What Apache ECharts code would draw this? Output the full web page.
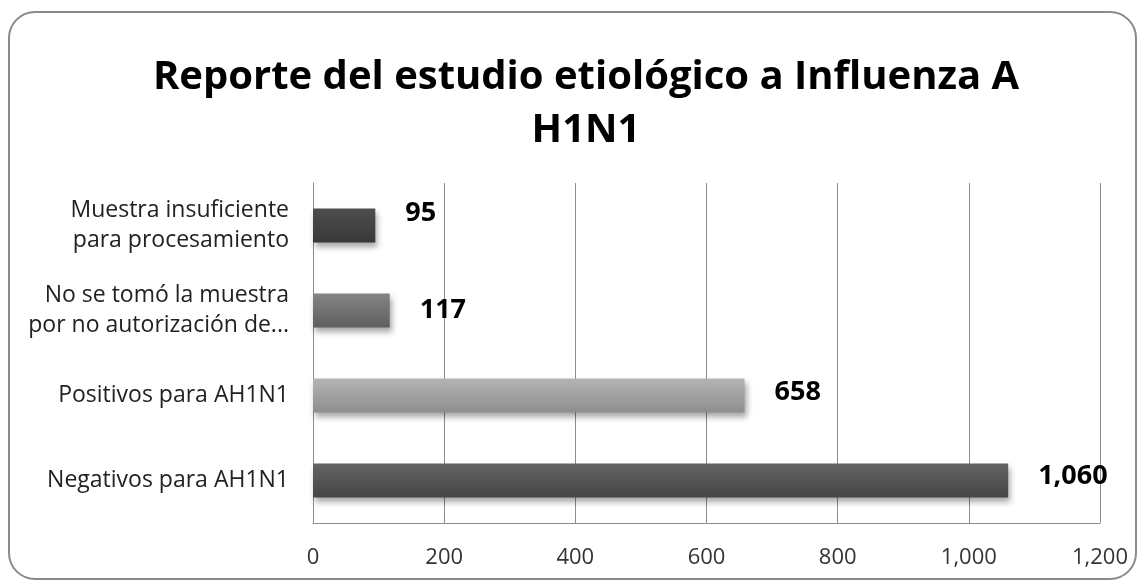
<!DOCTYPE html>
<html>
<head>
<meta charset="utf-8">
<script src="https://cdn.jsdelivr.net/npm/echarts@6/dist/echarts.min.js"></script>
<style>
  html, body { margin: 0; padding: 0; background: #fff; }
  #chart { width: 1142px; height: 585px; }
</style>
</head>
<body>
<div id="chart"></div>
<script>
var categories = [
  'Muestra insuficiente\npara procesamiento',
  'No se tomó la muestra\npor no autorización de...',
  'Positivos para AH1N1',
  'Negativos para AH1N1'
];
var values = [95, 117, 658, 1060];
var barColors = [
  ['#4e4e4e', '#383838'],
  ['#858585', '#5e5e5e'],
  ['#b4b4b4', '#8e8e8e'],
  ['#646464', '#444444']
];
var labelOffsets = [[0, -12], [0, 0], [0, -3], [0, -4]];
var xTicks = { min: 0, max: 1200, interval: 200 };

function fmt(v) {
  return String(v).replace(/\B(?=(\d{3})+(?!\d))/g, ',');
}

var chart = echarts.init(document.getElementById('chart'));

var data = values.map(function (v, i) {
  return {
    value: v,
    itemStyle: {
      color: new echarts.graphic.LinearGradient(0, 0, 0, 1, [
        { offset: 0, color: barColors[i][0] },
        { offset: 1, color: barColors[i][1] }
      ])
    },
    label: { offset: labelOffsets[i] }
  };
});

var option = {
  animation: false,
  backgroundColor: '#fff',
  title: {
    text: 'Reporte del estudio etiológico a Influenza A\nH1N1',
    left: 581,
    top: 46,
    textAlign: 'center',
    textStyle: {
      fontFamily: 'Open Sans',
      fontWeight: 'bold',
      fontSize: 40,
      lineHeight: 53,
      color: '#000'
    }
  },
  graphic: [{
    type: 'rect',
    shape: { x: 9, y: 12, width: 1127, height: 567, r: 26 },
    style: { fill: 'none', stroke: '#8a8a8a', lineWidth: 2 },
    silent: true
  }],
  grid: { left: 313, right: 42, top: 183, bottom: 62 },
  xAxis: {
    type: 'value',
    min: xTicks.min,
    max: xTicks.max,
    interval: xTicks.interval,
    axisLine: { show: true, lineStyle: { color: '#8c8c8c' } },
    axisTick: { show: false },
    splitLine: { show: true, lineStyle: { color: '#8c8c8c', width: 1 } },
    axisLabel: {
      margin: 24,
      fontFamily: 'Open Sans',
      fontSize: 22,
      color: '#333',
      formatter: function (v) { return fmt(v); }
    }
  },
  yAxis: {
    type: 'category',
    inverse: true,
    data: categories,
    axisLine: { show: true, lineStyle: { color: '#8c8c8c' } },
    axisTick: { show: false },
    axisLabel: {
      margin: 24,
      fontFamily: 'Open Sans',
      fontSize: 23,
      lineHeight: 30,
      color: '#222',
      align: 'right'
    }
  },
  series: [{
    type: 'bar',
    data: data,
    barWidth: 34,
    itemStyle: {
      shadowColor: 'rgba(0,0,0,0.35)',
      shadowBlur: 6,
      shadowOffsetX: 2,
      shadowOffsetY: 4
    },
    label: {
      show: true,
      position: 'right',
      distance: 30,
      fontFamily: 'Open Sans',
      fontWeight: 'bold',
      fontSize: 27,
      color: '#000',
      formatter: function (p) { return fmt(p.value); }
    }
  }]
};

chart.setOption(option);
</script>
</body>
</html>
